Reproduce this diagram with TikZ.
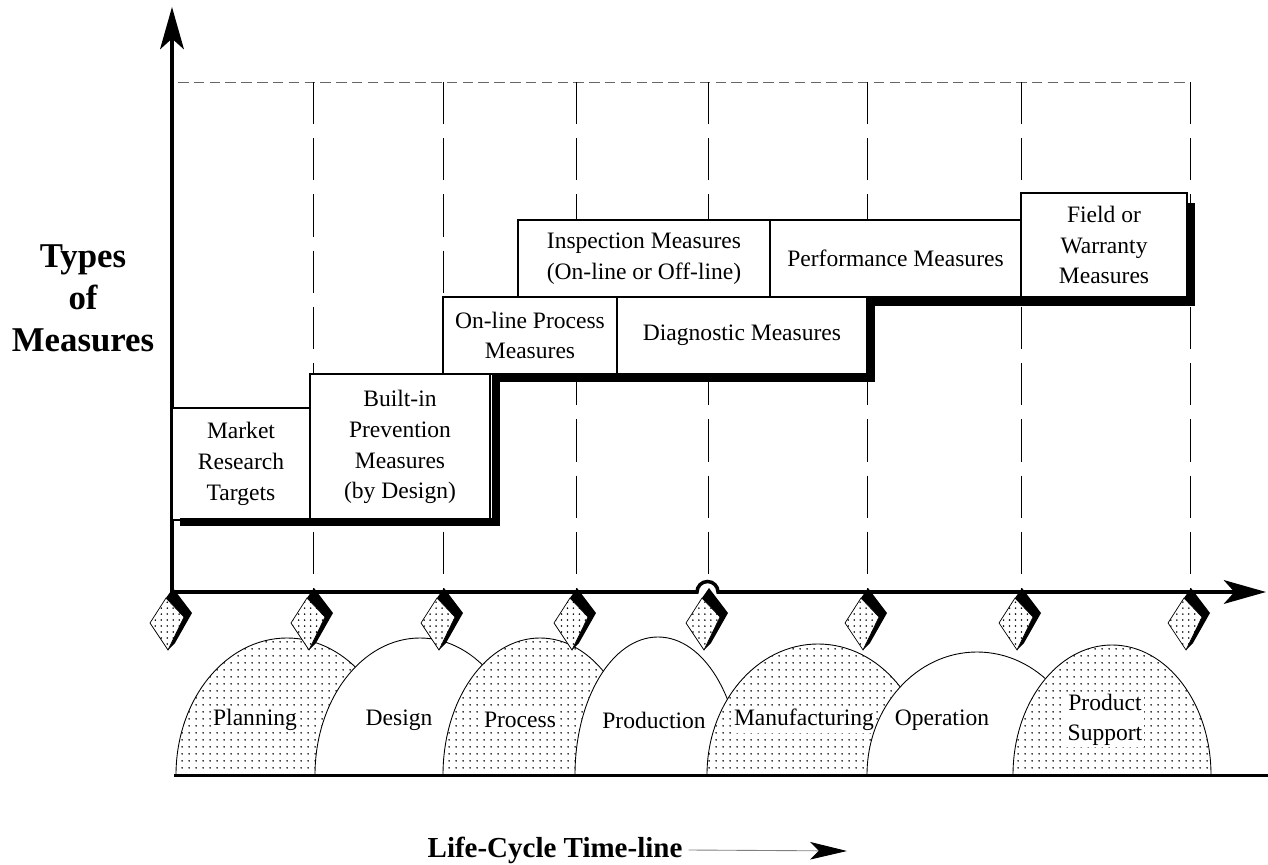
\documentclass[tikz,border=0pt]{standalone}
\usepackage{fontspec}
\setmainfont{Liberation Serif}
\usepackage{tikz}
\usetikzlibrary{positioning,arrows.meta,patterns.meta}
\def\unitpx{0.02cm}
\tikzstyle{measure}=[draw,line width=0.6pt,fill=white,inner sep=0pt,outer sep=0pt,
    align=center,anchor=north west,font=\fontsize{13.4}{17.5}\selectfont]
\tikzstyle{phase}=[fill=white,inner sep=1pt,align=center,font=\fontsize{13.4}{17}\selectfont]
\tikzstyle{title}=[align=center,font=\fontsize{19.8}{24}\selectfont\bfseries]
\tikzstyle{gridline}=[line width=0.4pt,dash pattern=on 24pt off 8pt]
\tikzstyle{topline}=[line width=0.4pt,gray!80!black,dash pattern=on 6pt off 3pt]
\tikzstyle{axis}=[line width=2pt,-{Stealth[length=24pt,width=13.5pt,inset=6pt]}]
\tikzstyle{dotarch}=[draw,line width=0.5pt,fill=white,postaction={pattern={Dots[distance=4pt,radius=0.55pt]}}]
\tikzstyle{plainarch}=[draw,line width=0.5pt,fill=white]
\tikzstyle{marker}=[draw,line width=0.4pt,fill=white,postaction={pattern={Dots[distance=3.4pt,radius=0.5pt]}}]
\newcommand{\newMeasure}[5]{\node[measure,minimum width=#4*\unitpx,minimum height=#5*\unitpx](#1) at (#3){#2};}
\newcommand{\newPhase}[7]{\path[#7] (#4,775) arc[start angle=180,end angle=0,x radius=#5*\unitpx,y radius=#6*\unitpx];
    \node[phase](#1) at (#3,720){#2};}
\newcommand{\newMarker}[1]{\fill[shift={(#1,0)}] (-6,598) -- (1,588) -- (20,613) -- (3,643) -- (-4,650) -- cycle;
    \path[marker,shift={(#1,0)}] (-6,598) -- (12,617) -- (-4,650) -- (-22,623) -- cycle;}

\begin{document}
\begin{tikzpicture}[x=0.02cm,y=-0.02cm]
        \useasboundingbox (0,0) rectangle (1268,865);
        % grid
        \draw[topline] (178,82) -- (1190,82);
        \draw[gridline] (313,82) -- (313,590) (443,82) -- (443,590) (576,82) -- (576,590)
            (708,82) -- (708,582) (867,82) -- (867,590) (1021,82) -- (1021,590) (1190,82) -- (1190,590);
        % axes
        \draw[axis] (172,593) -- (172,7);
        \draw[axis] (172,592) -- (697,592) arc[start angle=180,end angle=0,radius=10.5*\unitpx] -- (1266,592);
        \node[title] (types) at (83,298) {Types\\of\\Measures};
        % measures
        \newMeasure{market}{Market\\Research\\Targets}{172,408}{138}{112}
        \newMeasure{builtin}{Built-in\\Prevention\\Measures\\(by Design)}{310,374}{180}{146}
        \newMeasure{online}{On-line Process\\Measures}{443,297}{174}{77}
        \newMeasure{diagnostic}{Diagnostic Measures}{617,297}{250}{77}
        \newMeasure{inspection}{Inspection Measures\\(On-line or Off-line)}{518,220}{252}{77}
        \newMeasure{performance}{Performance Measures}{770,220}{251}{77}
        \newMeasure{field}{Field or\\Warranty\\Measures}{1021,193}{166}{104}
        \draw[line width=4.5pt,miter limit=10] (180,522) -- (496,522) -- (496,378) -- (871,378)
            -- (871,302) -- (1191,302) -- (1191,203);
        % life cycle
        \newPhase{planning}{Planning}{255}{176}{111}{137}{dotarch}
        \newPhase{design}{Design}{399}{315}{105}{137}{plainarch}
        \newPhase{process}{Process}{520}{443}{97}{137}{dotarch}
        \newPhase{production}{Production}{654}{575}{83}{138}{plainarch}
        \newPhase{manufacturing}{Manufacturing}{804}{707}{111}{131}{dotarch}
        \newPhase{operation}{Operation}{942}{867}{110}{123}{plainarch}
        \newPhase{support}{Product\\Support}{1105}{1013}{99}{130}{dotarch}
        \draw[line width=1.7pt] (174,775) -- (1268,775);
        \newMarker{172}
        \newMarker{313}
        \newMarker{443}
        \newMarker{576}
        \newMarker{708}
        \newMarker{867}
        \newMarker{1021}
        \newMarker{1190}
        \node[title,font=\fontsize{16.5}{20}\selectfont\bfseries] (timeline) at (555,850) {Life-Cycle Time-line};
        \coordinate (timeend) at (847,851);
        \draw[line width=0.5pt,gray,-{Stealth[length=21pt,width=10pt,inset=5pt,black]}] (timeline.east) -- (timeend);
\end{tikzpicture}
\end{document}
